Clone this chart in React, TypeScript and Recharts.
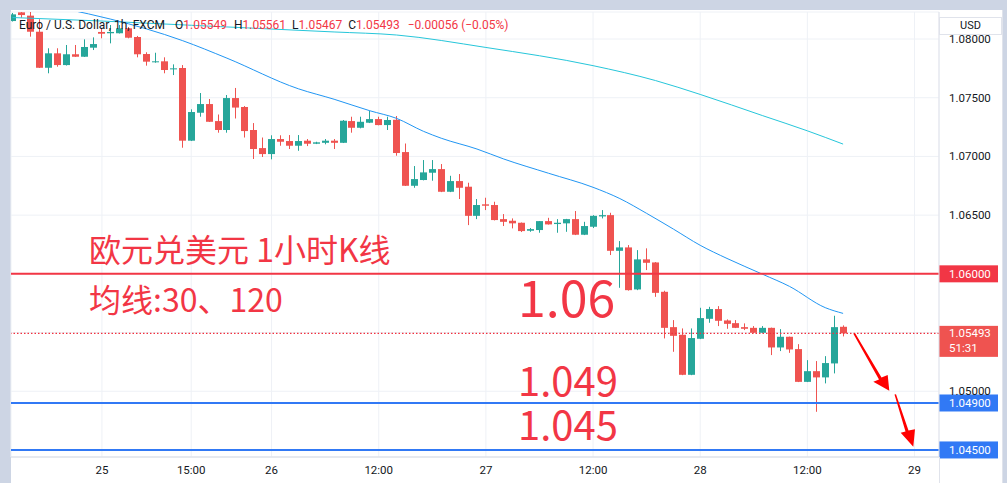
import React from 'react';
import {
  ComposedChart,
  Bar,
  Line,
  XAxis,
  YAxis,
  CartesianGrid,
  ReferenceLine,
} from 'recharts';

// --- data (EUR/USD, 1h, FXCM) ---
const TIME_TICKS = [10, 20, 29, 41, 53, 65, 77, 89, 101];
const TIME_LABELS = ['25', '15:00', '26', '12:00', '27', '12:00', '28', '12:00', '29'];
const PRICE_TICKS = [1.045, 1.05, 1.055, 1.06, 1.065, 1.07, 1.075, 1.08];
const HIDDEN_PRICE_TICKS = [1.045, 1.055, 1.06];

const OPEN = [
  1.08153, 1.08227, 1.08199, 1.08062, 1.07755, 1.07878, 1.07778, 1.0787, 1.07849, 1.07926,
  1.0806, 1.08049, 1.08049, 1.08091, 1.08017, 1.07872, 1.07804, 1.0781, 1.07742, 1.07753,
  1.07134, 1.07372, 1.07446, 1.07301, 1.07225, 1.07497, 1.07421, 1.07225, 1.07071, 1.0702,
  1.07148, 1.07131, 1.07091, 1.07134, 1.07108, 1.07116, 1.07134, 1.07116, 1.07301, 1.07244,
  1.07287, 1.07318, 1.07267, 1.07312, 1.07037, 1.0675, 1.06799, 1.06861, 1.06892, 1.06699,
  1.0679, 1.06742, 1.06494, 1.06592, 1.06586, 1.06466, 1.06452, 1.06435, 1.06367, 1.06373,
  1.06449, 1.06424, 1.0643, 1.06466, 1.06333, 1.06401, 1.06489, 1.065, 1.06196, 1.06225,
  1.05867, 1.06123, 1.06097, 1.05847, 1.05546, 1.05481, 1.0514, 1.05447, 1.05617, 1.057,
  1.05603, 1.0558, 1.05546, 1.0554, 1.05498, 1.0554, 1.05373, 1.05464, 1.05359, 1.0508,
  1.05171, 1.05118, 1.05237, 1.05549,
];
const HIGH = [
  1.08222, 1.0823, 1.0823, 1.08168, 1.07921, 1.07921, 1.07949, 1.07949, 1.07997, 1.08014,
  1.08091, 1.08119, 1.08119, 1.08102, 1.08026, 1.07887, 1.07883, 1.07844, 1.07784, 1.07778,
  1.07401, 1.0754, 1.07489, 1.07357, 1.07523, 1.07583, 1.07429, 1.07284, 1.07161, 1.0718,
  1.0718, 1.07182, 1.07182, 1.07148, 1.07125, 1.07148, 1.07148, 1.0731, 1.07338, 1.07338,
  1.07389, 1.07338, 1.07338, 1.07344, 1.0711, 1.06918, 1.06969, 1.06969, 1.06935, 1.06835,
  1.0685, 1.06776, 1.06637, 1.06648, 1.06614, 1.06509, 1.06472, 1.06437, 1.0639, 1.06449,
  1.06477, 1.06466, 1.06468, 1.06535, 1.06443, 1.065, 1.06543, 1.0652, 1.06279, 1.06245,
  1.06202, 1.06217, 1.061, 1.05856, 1.05606, 1.05535, 1.05535, 1.05711, 1.05719, 1.05725,
  1.05612, 1.05606, 1.05578, 1.05555, 1.05555, 1.05542, 1.05529, 1.05465, 1.05401, 1.05265,
  1.05257, 1.05299, 1.05643, 1.05561,
];
const LOW = [
  1.08149, 1.08181, 1.0802, 1.07753, 1.07708, 1.07764, 1.07774, 1.07847, 1.07847, 1.07906,
  1.08006, 1.07963, 1.08047, 1.08006, 1.07844, 1.07773, 1.07798, 1.07708, 1.07693, 1.07074,
  1.07131, 1.07338, 1.07293, 1.07202, 1.07202, 1.07323, 1.07161, 1.06978, 1.06995, 1.06975,
  1.07091, 1.07063, 1.07048, 1.07088, 1.07105, 1.07103, 1.07063, 1.07114, 1.07202, 1.07239,
  1.07284, 1.07265, 1.07225, 1.07006, 1.06748, 1.06733, 1.06796, 1.06793, 1.06696, 1.06696,
  1.06637, 1.06415, 1.06466, 1.06543, 1.06455, 1.06407, 1.06387, 1.06356, 1.06358, 1.0635,
  1.0642, 1.0635, 1.06358, 1.0633, 1.0633, 1.0639, 1.06472, 1.0616, 1.05881, 1.05857,
  1.05861, 1.06032, 1.05804, 1.0545, 1.05336, 1.05137, 1.05137, 1.05444, 1.05583, 1.05555,
  1.05532, 1.05538, 1.05521, 1.05495, 1.05495, 1.05308, 1.05342, 1.05327, 1.05078, 1.05078,
  1.04825, 1.05067, 1.05152, 1.05467,
];
const CLOSE = [
  1.0821, 1.08204, 1.08062, 1.07755, 1.07878, 1.07778, 1.0787, 1.07849, 1.07932, 1.07957,
  1.08045, 1.0806, 1.08091, 1.08011, 1.0787, 1.07807, 1.0781, 1.07736, 1.0775, 1.07134,
  1.07378, 1.07446, 1.07295, 1.07225, 1.07497, 1.07416, 1.07216, 1.07063, 1.0702, 1.07148,
  1.07125, 1.07091, 1.07131, 1.07108, 1.0712, 1.07134, 1.07116, 1.07304, 1.07244, 1.07295,
  1.07318, 1.07267, 1.0731, 1.07029, 1.0675, 1.06807, 1.06864, 1.06892, 1.06699, 1.0679,
  1.06733, 1.06494, 1.06586, 1.0658, 1.06458, 1.06443, 1.0643, 1.06364, 1.06381, 1.06449,
  1.06421, 1.06435, 1.06466, 1.06333, 1.06407, 1.06494, 1.065, 1.06196, 1.06225, 1.05861,
  1.06123, 1.06094, 1.05838, 1.0554, 1.05472, 1.0514, 1.05453, 1.05623, 1.057, 1.056,
  1.05574, 1.0554, 1.05532, 1.05498, 1.0554, 1.05373, 1.05464, 1.05356, 1.0508, 1.05171,
  1.05118, 1.0524, 1.05546, 1.05493,
];

// moving averages (30 / 120), read at a few bars
const MA30_INDEX = [6, 11, 19, 24, 32, 36, 40, 43, 46, 48, 52, 55, 60, 65, 68, 71, 74, 77, 80, 84, 87, 91, 93];
const MA30_VALUE = [
  1.08255, 1.08169, 1.07987, 1.07837, 1.07576, 1.07487, 1.07389, 1.07324, 1.07214, 1.07155, 1.07063, 1.06978,
  1.06857, 1.06737, 1.06641, 1.06515, 1.06381, 1.06243, 1.06131, 1.05996, 1.05893, 1.05712, 1.05663,
];
const MA120_INDEX = [0, 10, 20, 36, 43, 53, 65, 72, 77, 84, 89, 93];
const MA120_VALUE = [
  1.08183, 1.08153, 1.08117, 1.0806, 1.08034, 1.07928, 1.07773, 1.07646, 1.07528, 1.07347, 1.07218, 1.07105,
];

const RESISTANCE = 1.06;
const SUPPORTS = [1.049, 1.045];
const LAST_PRICE = 1.05493;
const LAST_TIMER = '51:31';

const X_DOMAIN: [number, number] = [-0.18, 103.74];
const Y_DOMAIN: [number, number] = [1.0444, 1.0823];

const UP = '#26A69A';
const DOWN = '#EF5350';
const RED_LINE = '#F23645';
const BLUE_LINE = '#3179F5';
const TEXT = '#131722';
const FONT = 'Roboto, sans-serif';
const CJK = '"Noto Sans CJK SC", sans-serif';

const candles = OPEN.map((o, i) => ({ i, o, h: HIGH[i], l: LOW[i], c: CLOSE[i] }));
const ma30 = MA30_INDEX.map((i, k) => ({ i, v: MA30_VALUE[k] }));
const ma120 = MA120_INDEX.map((i, k) => ({ i, v: MA120_VALUE[k] }));

const renderCandle = (props: any) => {
  const { x, y, width, height, payload } = props;
  if (!payload || height == null) return <g />;
  const { o, h, l, c } = payload;
  const color = c >= o ? UP : DOWN;
  const mid = Math.floor(x + width / 2);
  const k = h - l > 0 ? height / (h - l) : 0;
  const yo = y + (h - o) * k;
  const yc = y + (h - c) * k;
  const top = Math.min(yo, yc);
  const bh = Math.max(1, Math.abs(yo - yc));
  return (
    <g>
      <line x1={mid + 0.5} x2={mid + 0.5} y1={y} y2={y + height} stroke={color} strokeWidth={1} />
      <rect x={mid - 3} y={top} width={7} height={bh} fill={color} />
    </g>
  );
};

const renderPriceTick = (p: any) => {
  const v = p.payload.value;
  if (HIDDEN_PRICE_TICKS.some((h) => Math.abs(h - v) < 1e-9)) return <g />;
  return (
    <text x={p.x} y={p.y} dy={4} fill={TEXT} fontSize={11.5} fontFamily={FONT} textAnchor="start">
      {v.toFixed(5)}
    </text>
  );
};

const PriceTag = (props: any) => {
  const { viewBox, bg, text, sub } = props;
  if (!viewBox) return null;
  const x = viewBox.x + viewBox.width;
  const y = viewBox.y;
  return (
    <g>
      <rect x={x} y={sub ? y - 7.5 : y - 8.5} width={59} height={sub ? 31 : 17} fill={bg} />
      <text x={x + 10} y={y + 4} fill="#fff" fontSize={11.5} fontFamily={FONT}>
        {text}
      </text>
      {sub && (
        <text x={x + 10} y={y + 19} fill="#fff" fontSize={11.5} fontFamily={FONT}>
          {sub}
        </text>
      )}
    </g>
  );
};

export default function App() {
  return (
    <div
      style={{
        position: 'fixed',
        left: 0,
        top: 0,
        width: 1007,
        height: 483,
        background: '#CDD5E4',
        overflow: 'hidden',
      }}
    >
      {/* white panel */}
      <div style={{ position: 'absolute', left: 11, top: 10, width: 992, height: 473, background: '#fff' }} />

      <div style={{ position: 'absolute', left: 0, top: 0 }}>
        <ComposedChart width={1007} height={483} data={candles} margin={{ top: 12, right: 5, bottom: 0, left: 11 }}>
          <CartesianGrid stroke="#EEF1F6" />
          <XAxis
            dataKey="i"
            type="number"
            domain={X_DOMAIN}
            allowDataOverflow
            ticks={TIME_TICKS}
            tickFormatter={(v: number) => TIME_LABELS[TIME_TICKS.indexOf(v)] ?? ''}
            height={26}
            tickSize={0}
            tickMargin={9}
            axisLine={{ stroke: '#D6DAE2' }}
            tickLine={false}
            tick={{ fill: TEXT, fontSize: 11.5, fontFamily: FONT }}
          />
          <YAxis
            orientation="right"
            type="number"
            domain={Y_DOMAIN}
            allowDataOverflow
            ticks={PRICE_TICKS}
            width={63}
            tickSize={0}
            tickMargin={10}
            axisLine={{ stroke: '#E0E3EB' }}
            tickLine={false}
            tick={renderPriceTick}
          />
          <Bar dataKey={(d: any) => [d.l, d.h]} shape={renderCandle} barSize={7} isAnimationActive={false} />
          <Line
            data={ma120}
            dataKey="v"
            type="monotone"
            stroke="#26C6DA"
            strokeWidth={1}
            dot={false}
            isAnimationActive={false}
          />
          <Line
            data={ma30}
            dataKey="v"
            type="monotone"
            stroke="#2196F3"
            strokeWidth={1}
            dot={false}
            isAnimationActive={false}
          />
          <ReferenceLine
            y={LAST_PRICE}
            stroke="#F0303F"
            strokeWidth={1.2}
            strokeDasharray="1.5 2"
            label={<PriceTag bg={DOWN} text={LAST_PRICE.toFixed(5)} sub={LAST_TIMER} />}
          />
          <ReferenceLine
            y={RESISTANCE}
            stroke={RED_LINE}
            strokeWidth={2}
            label={<PriceTag bg={RED_LINE} text={RESISTANCE.toFixed(5)} />}
          />
          {SUPPORTS.map((s) => (
            <ReferenceLine
              key={s}
              y={s}
              stroke={BLUE_LINE}
              strokeWidth={2}
              label={<PriceTag bg={BLUE_LINE} text={s.toFixed(5)} />}
            />
          ))}
        </ComposedChart>
      </div>

      {/* price scale frame */}
      <div style={{ position: 'absolute', left: 939, top: 457, width: 1, height: 26, background: '#E0E3EB' }} />
      <div style={{ position: 'absolute', left: 1002, top: 10, width: 1, height: 473, background: '#E0E3EB' }} />
      <div
        style={{
          position: 'absolute',
          left: 939,
          top: 17,
          width: 63,
          height: 18,
          boxSizing: 'border-box',
          border: '1px solid #E0E3EB',
          background: '#fff',
          color: TEXT,
          fontFamily: FONT,
          fontSize: 11,
          lineHeight: '16px',
          textAlign: 'center',
        }}
      >
        USD
      </div>

      {/* legend */}
      <div
        style={{
          position: 'absolute',
          left: 19,
          top: 18,
          fontFamily: FONT,
          fontSize: 12,
          lineHeight: '14px',
          color: TEXT,
          whiteSpace: 'nowrap',
        }}
      >
        <span>Euro / U.S. Dollar, 1h, FXCM</span>
        <span style={{ marginLeft: 10 }}>O</span>
        <span style={{ color: RED_LINE }}>{OPEN[OPEN.length - 1].toFixed(5)}</span>
        <span style={{ marginLeft: 7 }}>H</span>
        <span style={{ color: RED_LINE }}>{HIGH[HIGH.length - 1].toFixed(5)}</span>
        <span style={{ marginLeft: 6 }}>L</span>
        <span style={{ color: RED_LINE }}>{LOW[LOW.length - 1].toFixed(5)}</span>
        <span style={{ marginLeft: 6 }}>C</span>
        <span style={{ color: RED_LINE }}>{CLOSE[CLOSE.length - 1].toFixed(5)}</span>
        <span style={{ marginLeft: 8, color: RED_LINE }}>−0.00056 (−0.05%)</span>
      </div>

      {/* annotations */}
      <svg width={1007} height={483} style={{ position: 'absolute', left: 0, top: 0, pointerEvents: 'none' }}>
        <g fill={RED_LINE} fontFamily={CJK}>
          <text x={89} y={262} fontSize={32}>欧元兑美元 1小时K线</text>
          <text x={89} y={312} fontSize={32}>均线:30、120</text>
          <text x={518} y={317} fontSize={50}>1.06</text>
          <text x={518} y={396} fontSize={40}>1.049</text>
          <text x={518} y={440} fontSize={40}>1.045</text>
        </g>
        <g fill="#FF0000">
          <polygon points="853.5,334 855,333 881.5,377.5 887.7,375 889.3,390.7 873.3,381.7 879,379.5" />
          <polygon points="894.5,394.5 896,394.3 908.5,430.5 915,429.3 913.3,446.7 900.7,432.7 905.5,431.5" />
        </g>
      </svg>
    </div>
  );
}
